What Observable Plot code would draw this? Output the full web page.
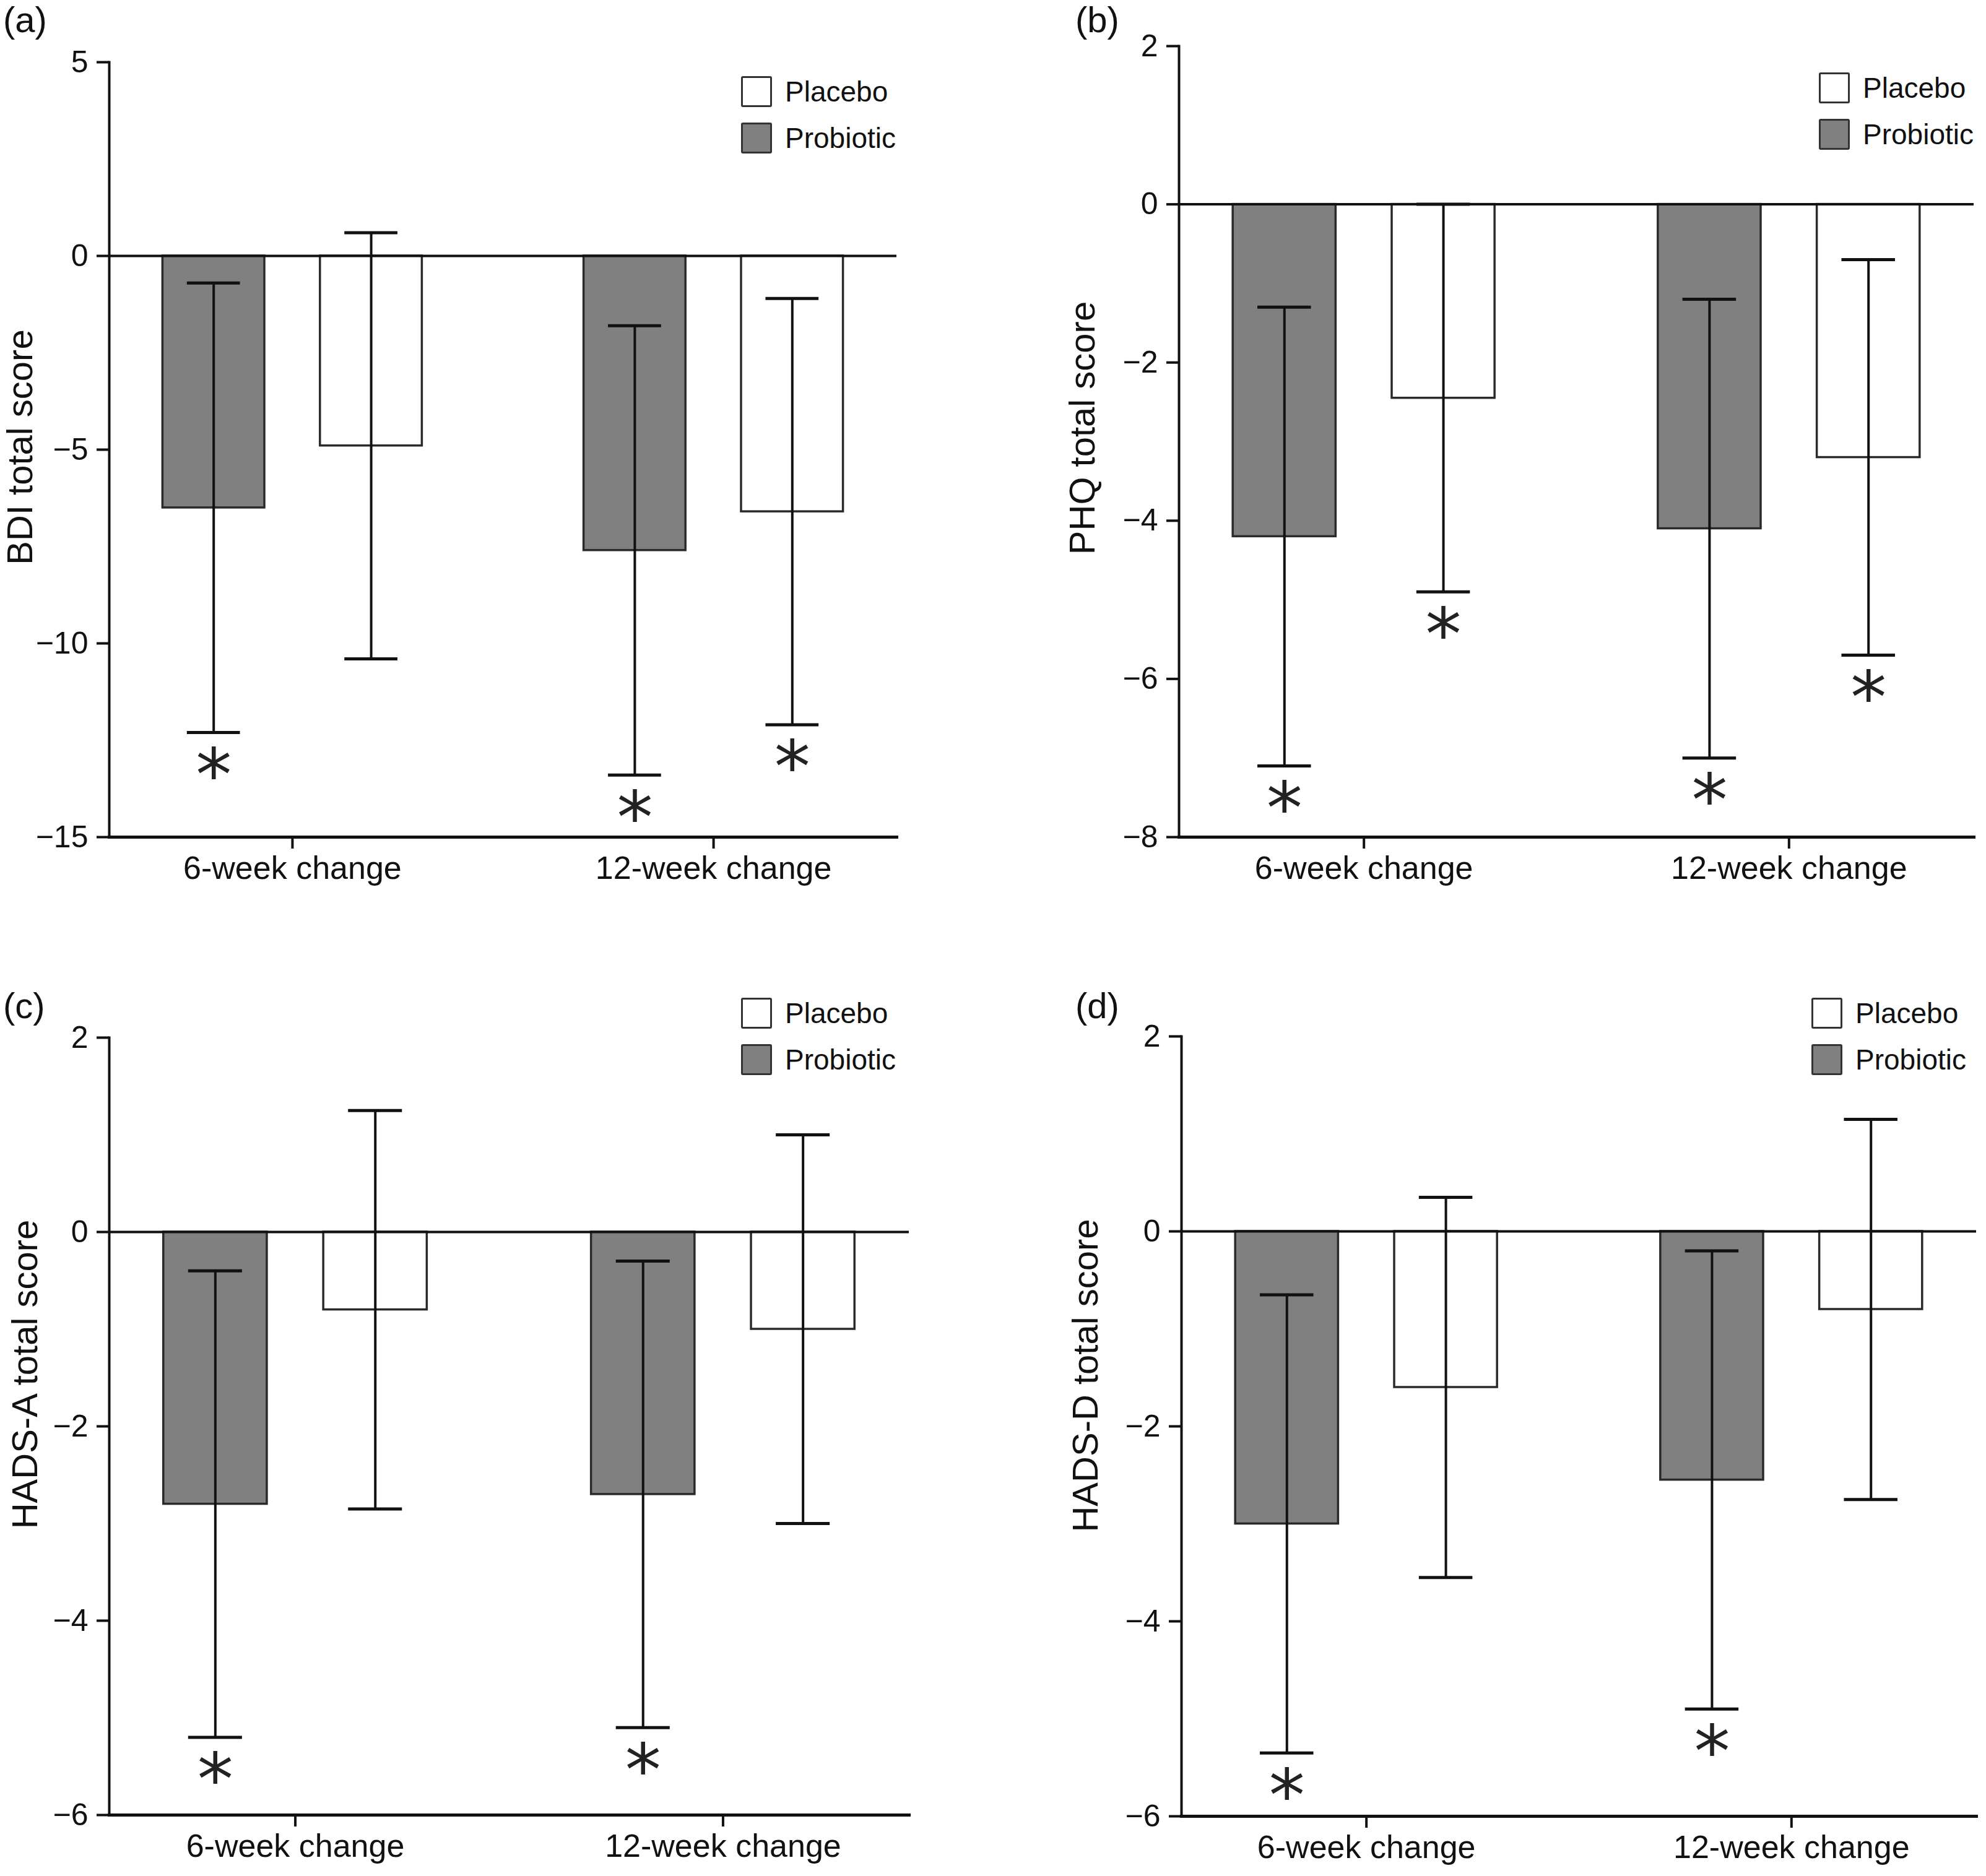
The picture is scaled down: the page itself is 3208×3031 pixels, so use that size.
<!DOCTYPE html>
<html>
<head>
<meta charset="utf-8">
<script src="https://cdn.jsdelivr.net/npm/d3@7"></script>
<script src="https://cdn.jsdelivr.net/npm/@observablehq/plot@0.6"></script>
<style>
  html, body { margin: 0; padding: 0; background: #fff; }
  #fig { position: relative; width: 3208px; height: 3031px; font-family: "Liberation Sans", Arial, sans-serif; color: #111; overflow: hidden; }
  .panel { position: absolute; }
  .tag { position: absolute; font-size: 58px; line-height: 1.1; }
  .legend { position: absolute; font-size: 46px; line-height: 1; }
  .legend .row { display: flex; align-items: center; height: 50px; margin-bottom: 25px; }
  .legend .sw { box-sizing: border-box; width: 50px; height: 50px; border: 3.5px solid #333; border-radius: 3px; margin-right: 21px; }
</style>
</head>
<body>
<div id="fig"></div>
<script>
// Timepoints on the x axis and the two study arms.
const categories = ["6-week change", "12-week change"];
const groups = ["Probiotic", "Placebo"];
const groupFill = { Probiotic: "#808080", Placebo: "#ffffff" };

// Mean change and SD, ordered: 6-week probiotic, 6-week placebo, 12-week probiotic, 12-week placebo.
const bdiMean = [-6.5, -4.9, -7.6, -6.6];
const bdiSD = [5.8, 5.5, 5.8, 5.5];
const bdiSig = [true, false, true, true];

const phqMean = [-4.2, -2.45, -4.1, -3.2];
const phqSD = [2.9, 2.45, 2.9, 2.5];
const phqSig = [true, true, true, true];

const hadsAMean = [-2.8, -0.8, -2.7, -1.0];
const hadsASD = [2.4, 2.05, 2.4, 2.0];
const hadsASig = [true, false, true, false];

const hadsDMean = [-3.0, -1.6, -2.55, -0.8];
const hadsDSD = [2.35, 1.95, 2.35, 1.95];
const hadsDSig = [true, false, true, false];

// Y tick values for each panel.
const bdiTicks = [-15, -10, -5, 0, 5];
const phqTicks = [-8, -6, -4, -2, 0, 2];
const hadsTicks = [-6, -4, -2, 0, 2];

const panels = [
  { tag: "(a)", title: "BDI total score", mean: bdiMean, sd: bdiSD, sig: bdiSig, ticks: bdiTicks,
    left: 0, top: 0, width: 1600, height: 1500, mL: 176, mR: 152, mT: 100, mB: 148, titleOffset: 166, titleDy: -4,
    tagX: 5, tagY: 0, legX: 1197, legY: 123 },
  { tag: "(b)", title: "PHQ total score", mean: phqMean, sd: phqSD, sig: phqSig, ticks: phqTicks,
    left: 1600, top: 0, width: 1608, height: 1500, mL: 304, mR: 20, mT: 74, mB: 148, titleOffset: 178, titleDy: -22,
    tagX: 1737, tagY: 0, legX: 2938, legY: 117 },
  { tag: "(c)", title: "HADS-A total score", mean: hadsAMean, sd: hadsASD, sig: hadsASig, ticks: hadsTicks,
    left: 0, top: 1500, width: 1600, height: 1531, mL: 176, mR: 132, mT: 176, mB: 99, titleOffset: 158, titleDy: -84,
    tagX: 5, tagY: 1593, legX: 1197, legY: 1612 },
  { tag: "(d)", title: "HADS-D total score", mean: hadsDMean, sd: hadsDSD, sig: hadsDSig, ticks: hadsTicks,
    left: 1600, top: 1500, width: 1608, height: 1531, mL: 308, mR: 16, mT: 174, mB: 97, titleOffset: 177, titleDy: -82,
    tagX: 1737, tagY: 1593, legX: 2926, legY: 1612 }
];

// Layout of the grouped bars in category units.
const xDomain = [-0.435, 1.435];
const groupOffset = 0.187;
const barHalf = 0.121;
const capHalf = 0.063;

const fig = document.getElementById("fig");

for (const p of panels) {
  const rows = [];
  categories.forEach((cat, i) => {
    groups.forEach((g, j) => {
      const k = i * 2 + j;
      const cx = i + (g === "Probiotic" ? -groupOffset : groupOffset);
      rows.push({ cat, group: g, cx, mean: p.mean[k], lo: p.mean[k] - p.sd[k], hi: p.mean[k] + p.sd[k], sig: p.sig[k] });
    });
  });
  const yDomain = [d3.min(p.ticks), d3.max(p.ticks)];

  const chart = Plot.plot({
    width: p.width,
    height: p.height,
    marginLeft: p.mL,
    marginRight: p.mR,
    marginTop: p.mT,
    marginBottom: p.mB,
    style: { fontFamily: "'Liberation Sans', Arial, sans-serif", fontSize: "48px", color: "#111", background: "transparent", overflow: "visible" },
    x: { domain: xDomain, axis: null },
    y: { domain: yDomain, axis: null },
    marks: [
      // mean change bars
      Plot.rect(rows, {
        x1: d => d.cx - barHalf, x2: d => d.cx + barHalf, y1: 0, y2: "mean",
        fill: d => groupFill[d.group], stroke: "#2a2a2a", strokeWidth: 3.5
      }),
      Plot.ruleY([0], { stroke: "#111", strokeWidth: 4 }),
      // ±SD whiskers with caps
      Plot.ruleX(rows, { x: "cx", y1: "lo", y2: "hi", stroke: "#111", strokeWidth: 4 }),
      Plot.ruleY(rows, { y: "hi", x1: d => d.cx - capHalf, x2: d => d.cx + capHalf, stroke: "#111", strokeWidth: 5 }),
      Plot.ruleY(rows, { y: "lo", x1: d => d.cx - capHalf, x2: d => d.cx + capHalf, stroke: "#111", strokeWidth: 5 }),
      // significance markers under the lower whisker
      Plot.text(rows.filter(d => d.sig), {
        x: "cx", y: "lo", text: () => "*", fontFamily: "DejaVu Sans", fontSize: 116, lineAnchor: "top", dy: 26, fill: "#222"
      }),
      Plot.frame({ anchor: "left", stroke: "#111", strokeWidth: 4 }),
      Plot.frame({ anchor: "bottom", stroke: "#111", strokeWidth: 5 }),
      Plot.axisY({ ticks: p.ticks, tickSize: 20, tickPadding: 14, strokeWidth: 4, fontSize: 50, label: null }),
      Plot.axisX({ ticks: [0, 1], tickFormat: i => categories[i], tickSize: 19, tickPadding: 12, strokeWidth: 4, fontSize: 52, label: null }),
      Plot.text([p.title], { frameAnchor: "left", rotate: -90, lineAnchor: "top", textAnchor: "middle", dx: -p.titleOffset, dy: p.titleDy, fontSize: 58 })
    ]
  });
  chart.classList.add("panel");
  chart.style.left = p.left + "px";
  chart.style.top = p.top + "px";
  fig.appendChild(chart);

  const tag = document.createElement("div");
  tag.className = "tag";
  tag.textContent = p.tag;
  tag.style.left = p.tagX + "px";
  tag.style.top = p.tagY + "px";
  fig.appendChild(tag);

  const leg = document.createElement("div");
  leg.className = "legend";
  leg.style.left = p.legX + "px";
  leg.style.top = p.legY + "px";
  for (const g of ["Placebo", "Probiotic"]) {
    const row = document.createElement("div");
    row.className = "row";
    const sw = document.createElement("div");
    sw.className = "sw";
    sw.style.background = groupFill[g];
    const label = document.createElement("span");
    label.textContent = g;
    row.appendChild(sw);
    row.appendChild(label);
    leg.appendChild(row);
  }
  fig.appendChild(leg);
}
</script>
</body>
</html>
